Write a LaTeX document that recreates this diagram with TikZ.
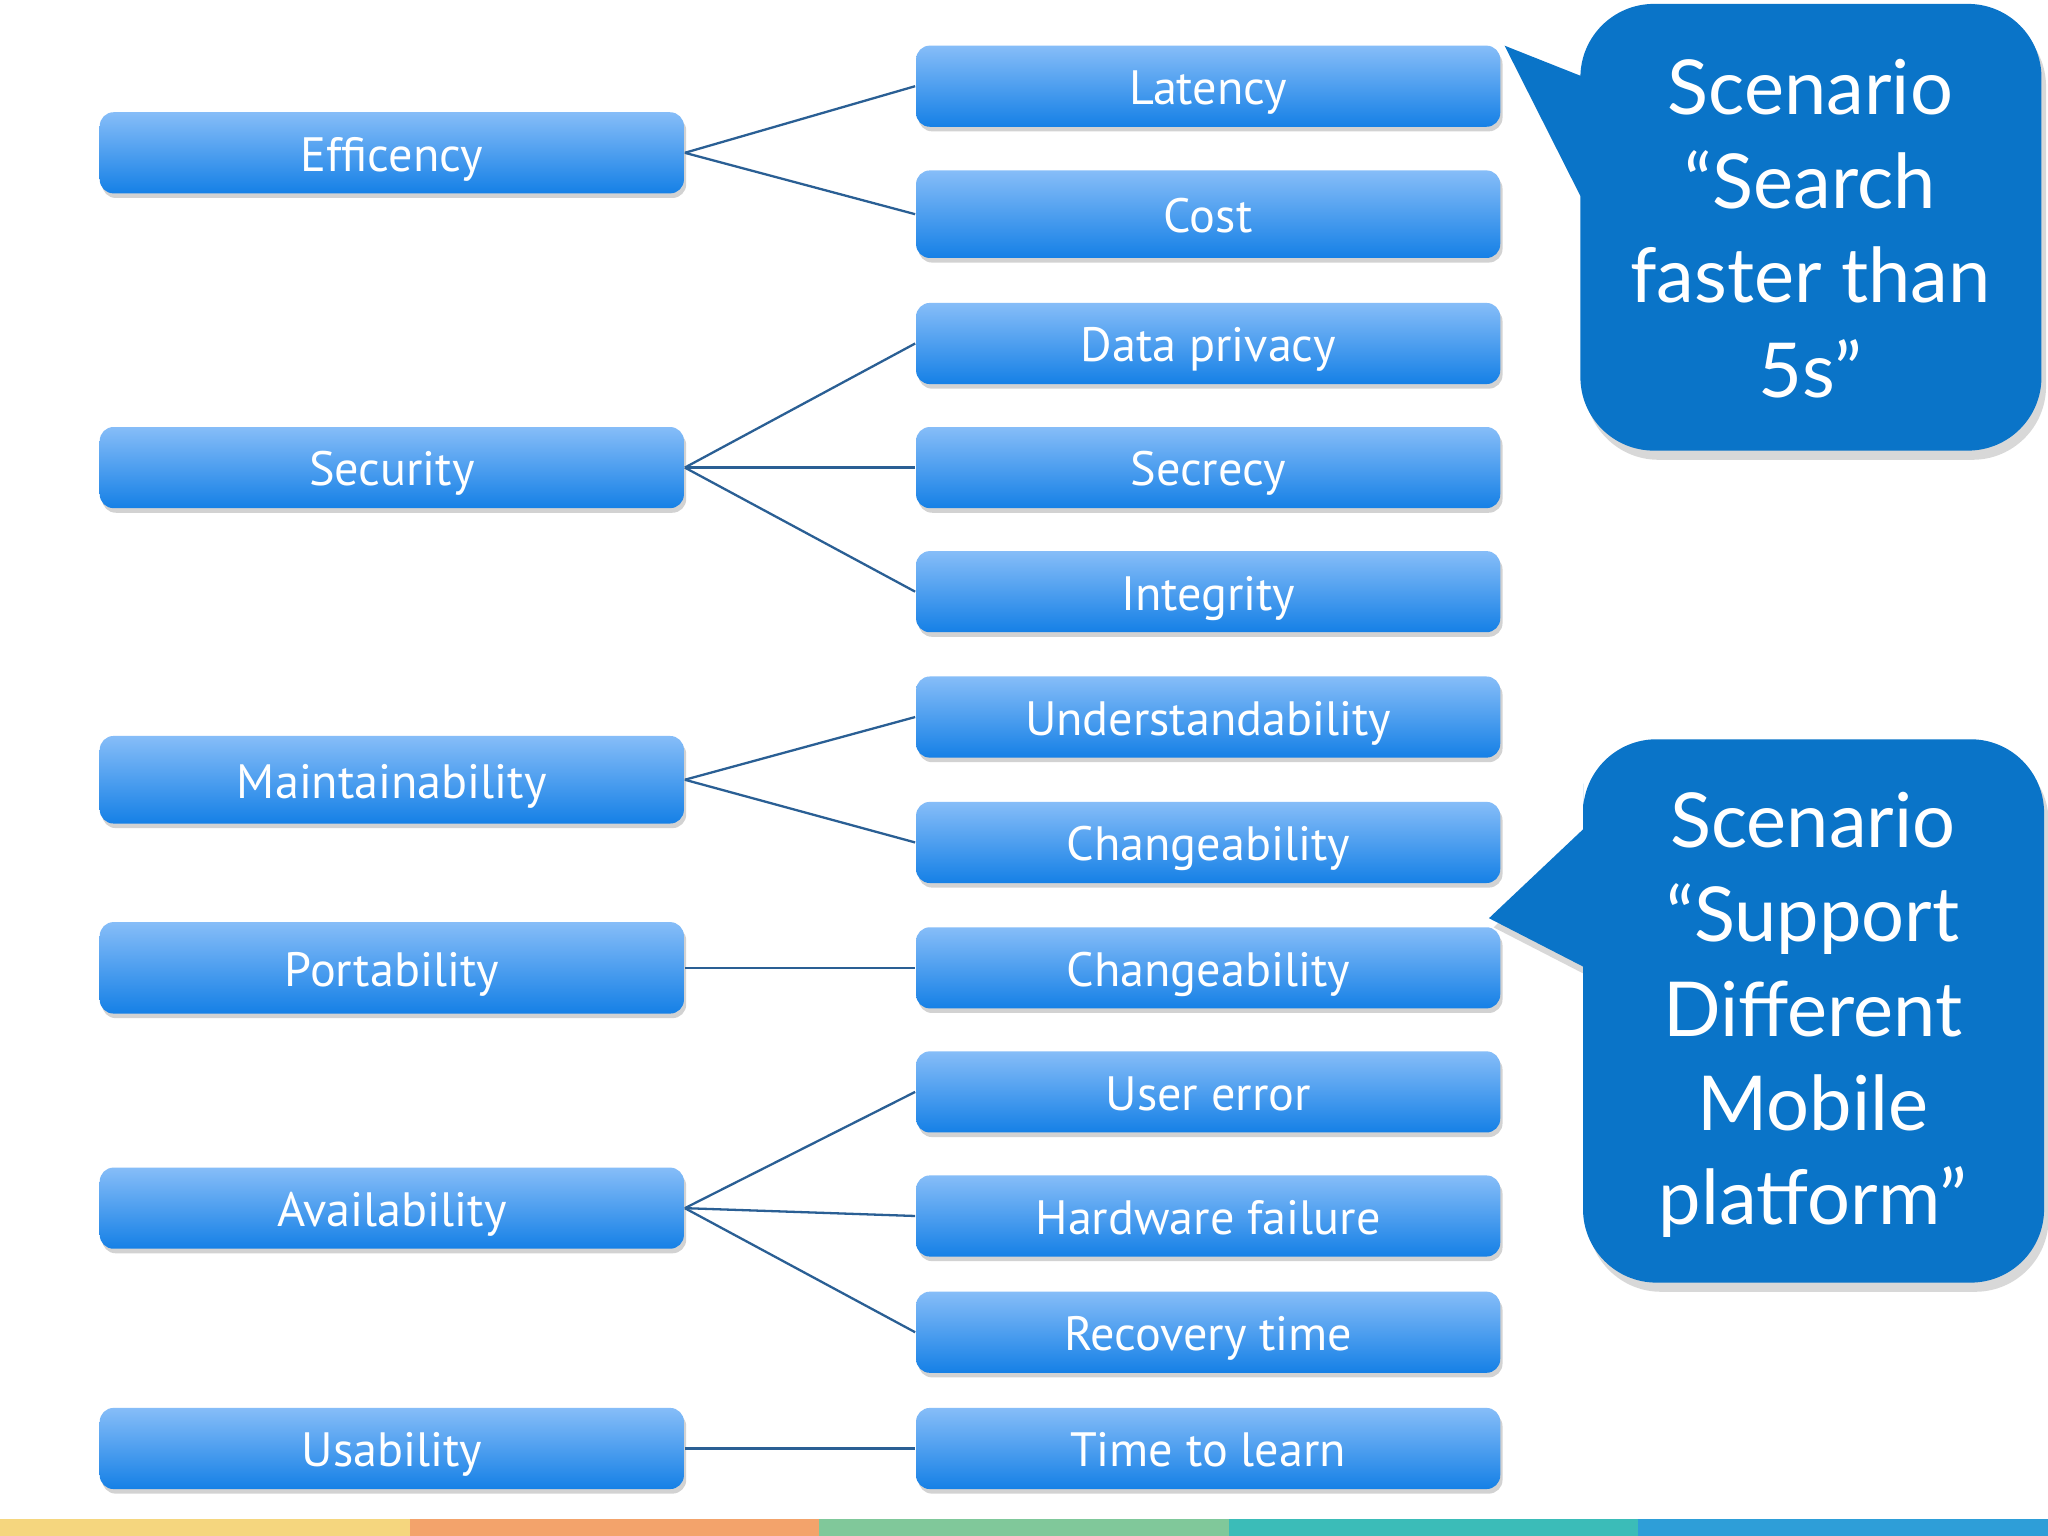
\documentclass[tikz,border=0pt]{standalone}
\usepackage{fontspec}
\setmainfont{PT Sans}
\newfontfamily\callfont{Lato}
\usetikzlibrary{shadows}
\definecolor{btop}{HTML}{86BDF8}
\definecolor{bbot}{HTML}{1580E6}
\definecolor{call}{HTML}{0A74C8}
\definecolor{lnk}{HTML}{2A5F94}
\definecolor{s1}{HTML}{F5D67E}\definecolor{s2}{HTML}{F3A36B}\definecolor{s3}{HTML}{80C89A}\definecolor{s4}{HTML}{3BBCB8}\definecolor{s5}{HTML}{2E9ED8}
\begin{document}
\begin{tikzpicture}[x=0.01cm,y=-0.01cm,
  box/.style={draw=none,rounded corners=3pt,top color=btop,bottom color=bbot,
    minimum width=4.47cm,minimum height=0.62cm,text=white,font=\fontsize{10.5}{12}\selectfont,
    text height=1.9ex,text depth=0.3ex,
    drop shadow={shadow xshift=0.5pt,shadow yshift=-1pt,opacity=0.35}},
  lk/.style={draw=lnk,line width=0.5pt},
  ctext/.style={text=white,align=center,font=\callfont\fontsize{16.5}{20.5}\selectfont}]
\useasboundingbox (0,0) rectangle (1568,1176);
\fill[white] (0,0) rectangle (1568,1176);
% left
\node[box] (eff) at (300,117) {Efficency};
\node[box] (sec) at (300,358) {Security};
\node[box,minimum height=0.67cm] (mai) at (300,597) {Maintainability};
\node[box,minimum height=0.7cm] (por) at (300,741) {Portability};
\node[box] (ava) at (300,925) {Availability};
\node[box] (usa) at (300,1109) {Usability};
% right
\node[box] (lat) at (925,66) {Latency};
\node[box,minimum height=0.67cm] (cos) at (925,164) {Cost};
\node[box] (dat) at (925,263) {Data privacy};
\node[box] (scr) at (925,358) {Secrecy};
\node[box] (int) at (925,453) {Integrity};
\node[box] (und) at (925,549) {Understandability};
\node[box] (ch1) at (925,645) {Changeability};
\node[box] (ch2) at (925,741) {Changeability};
\node[box] (use) at (925,836) {User error};
\node[box] (har) at (925,931) {Hardware failure};
\node[box,minimum height=0.5cm] (rec) at (925,1020) {Recovery time};
\node[box] (tim) at (925,1109) {Time to learn};
% links
\draw[lk] (eff.east) -- (lat.west); \draw[lk] (eff.east) -- (cos.west);
\draw[lk] (sec.east) -- (dat.west); \draw[lk] (sec.east) -- (scr.west); \draw[lk] (sec.east) -- (int.west);
\draw[lk] (mai.east) -- (und.west); \draw[lk] (mai.east) -- (ch1.west);
\draw[lk] (por.east) -- (ch2.west);
\draw[lk] (ava.east) -- (use.west); \draw[lk] (ava.east) -- (har.west); \draw[lk] (ava.east) -- (rec.west);
\draw[lk] (usa.east) -- (tim.west);
% callouts
\fill[call,drop shadow={shadow xshift=1pt,shadow yshift=-2pt,opacity=0.3}] (1210,90) [rounded corners=16pt] -- (1210,3) -- (1563,3) -- (1563,345) -- (1210,345) [rounded corners=0] -- (1210,150) -- (1152,35) -- (1210,58) -- cycle;
\node[ctext] (c1) at (1386,175) {Scenario\\“Search\\faster than\\5s”};
\fill[call,drop shadow={shadow xshift=1pt,shadow yshift=-2pt,opacity=0.3}] (1212,600) [rounded corners=16pt] -- (1212,566) -- (1565,566) -- (1565,982) -- (1212,982) [rounded corners=0] -- (1212,740) -- (1140,703) -- (1212,635) -- cycle;
\node[ctext] (c2) at (1388,777) {Scenario\\“Support\\Different\\Mobile\\platform”};
% strip
\fill[s1] (0,1163) rectangle (313.6,1176);
\fill[s2] (313.6,1163) rectangle (627.2,1176);
\fill[s3] (627.2,1163) rectangle (940.8,1176);
\fill[s4] (940.8,1163) rectangle (1254.4,1176);
\fill[s5] (1254.4,1163) rectangle (1568,1176);
\end{tikzpicture}
\end{document}
